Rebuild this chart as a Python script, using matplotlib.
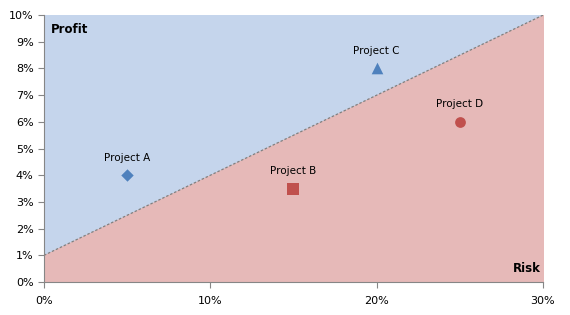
import matplotlib.pyplot as plt
from matplotlib.ticker import FuncFormatter

# project data (risk %, profit %)
projects = ['Project A', 'Project B', 'Project C', 'Project D']
risk = [5, 15, 20, 25]
profit = [4, 3.5, 8, 6]
markers = ['D', 's', '^', 'o']
colors = ['#4F81BD', '#C0504D', '#4F81BD', '#C0504D']
sizes = [40, 70, 70, 60]

# boundary line between the two regions
line_x = [0, 30]
line_y = [1, 10]

fig = plt.figure(figsize=(5.7, 3.15), dpi=100)
ax = fig.add_axes([0.0772, 0.1048, 0.8754, 0.8472])

ax.fill_between(line_x, line_y, 10, color='#C5D5EC', zorder=0)
ax.fill_between(line_x, 0, line_y, color='#E6B9B8', zorder=0)
ax.plot(line_x, line_y, color='#808080', linestyle=(0, (2, 1.5)), linewidth=0.9, zorder=1)

for name, x, y, m, c, s in zip(projects, risk, profit, markers, colors, sizes):
    ax.scatter(x, y, marker=m, color=c, s=s, zorder=3, linewidths=0)
    ax.annotate(name, (x, y), xytext=(0, 9), textcoords='offset points',
                ha='center', va='bottom', fontsize=7.5, color='#000000')

ax.text(0.013, 0.972, 'Profit', transform=ax.transAxes, ha='left', va='top',
        fontsize=8.5, fontweight='bold')
ax.text(0.995, 0.025, 'Risk', transform=ax.transAxes, ha='right', va='bottom',
        fontsize=8.5, fontweight='bold')

ax.set_xlim(0, 30)
ax.set_ylim(0, 10)
ax.set_xticks([0, 10, 20, 30])
ax.set_yticks(range(0, 11))
pct = FuncFormatter(lambda v, p: '%d%%' % v)
ax.xaxis.set_major_formatter(pct)
ax.yaxis.set_major_formatter(pct)
ax.tick_params(labelsize=8, length=4, color='#868686', width=0.8)
ax.tick_params(axis='x', pad=6)

for side in ['top', 'right']:
    ax.spines[side].set_visible(False)
for side in ['left', 'bottom']:
    ax.spines[side].set_color('#868686')
    ax.spines[side].set_linewidth(0.8)

fig.savefig('out.png', dpi=100)
